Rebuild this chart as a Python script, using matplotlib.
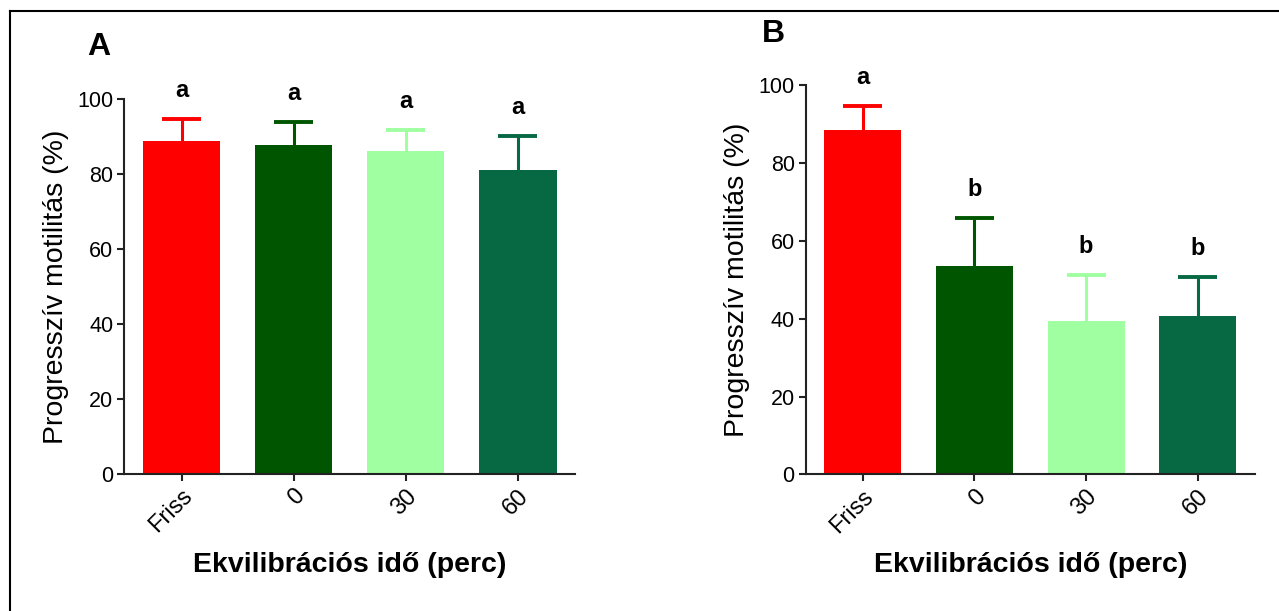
import matplotlib
matplotlib.use("Agg")
import matplotlib.pyplot as plt
from matplotlib.lines import Line2D

plt.rcParams['font.family'] = ['Liberation Sans', 'DejaVu Sans']

groups = ["Friss", "0", "30", "60"]
colors = ["#ff0000", "#005500", "#a0ffa0", "#076944"]

# panel A
a_mean = [88.9, 87.8, 86.2, 81.1]
a_sd = [5.8, 6.1, 5.5, 9.1]
a_letters = ["a", "a", "a", "a"]

# panel B
b_mean = [88.6, 53.5, 39.5, 40.8]
b_sd = [6.1, 12.5, 11.7, 10.0]
b_letters = ["a", "b", "b", "b"]

fig = plt.figure(figsize=(12.79, 6.11), dpi=100)
axA = fig.add_axes([0.0973, 0.2242, 0.3523, 0.6138])
axB = fig.add_axes([0.630, 0.2237, 0.351, 0.6367])


def draw(ax, mean, sd, letters):
    x = range(len(groups))
    ax.bar(x, mean, width=0.69, color=colors, zorder=2)
    for i in x:
        top = mean[i] + sd[i]
        # upper error bar only, same colour as the bar
        ax.vlines(i, mean[i], top, color=colors[i], lw=2.2, zorder=1)
        ax.hlines(top, i - 0.175, i + 0.175, color=colors[i], lw=2.8, zorder=1)
        ax.annotate(letters[i], xy=(i, top), xytext=(0, 20.5),
                    textcoords='offset points', ha='center', va='center',
                    fontsize=17, fontweight='bold', annotation_clip=False)
    ax.set_xlim(-0.51, 3.51)
    ax.set_ylim(0, 100)
    ax.set_yticks([0, 20, 40, 60, 80, 100])
    ax.set_xticks(list(x))
    ax.set_xticklabels(groups, rotation=45, ha='right', rotation_mode='anchor',
                       fontsize=17)
    ax.spines['top'].set_visible(False)
    ax.spines['right'].set_visible(False)
    for s in ('left', 'bottom'):
        ax.spines[s].set_linewidth(1.5)
        ax.spines[s].set_color('#222222')
    ax.tick_params(width=1.5, length=5, color='#222222', pad=3)
    ax.tick_params(axis='y', labelsize=15.5)
    ax.set_ylabel("Progresszív motilitás (%)", fontsize=20.5, labelpad=6)
    ax.set_xlabel("Ekvilibrációs idő (perc)", fontsize=20.5, fontweight='bold',
                  labelpad=11)


draw(axA, a_mean, a_sd, a_letters)
draw(axB, b_mean, b_sd, b_letters)

fig.text(0.068, 0.923, "A", fontsize=23, fontweight='bold', va='center')
fig.text(0.596, 0.944, "B", fontsize=23, fontweight='bold', va='center')

# frame lines (left and top only)
fig.add_artist(Line2D([0.0075, 0.0075], [0.0, 0.982], transform=fig.transFigure,
                      color='black', lw=1.5))
fig.add_artist(Line2D([0.0075, 1.0], [0.982, 0.982], transform=fig.transFigure,
                      color='black', lw=1.5))

fig.savefig("out.png", dpi=100)
